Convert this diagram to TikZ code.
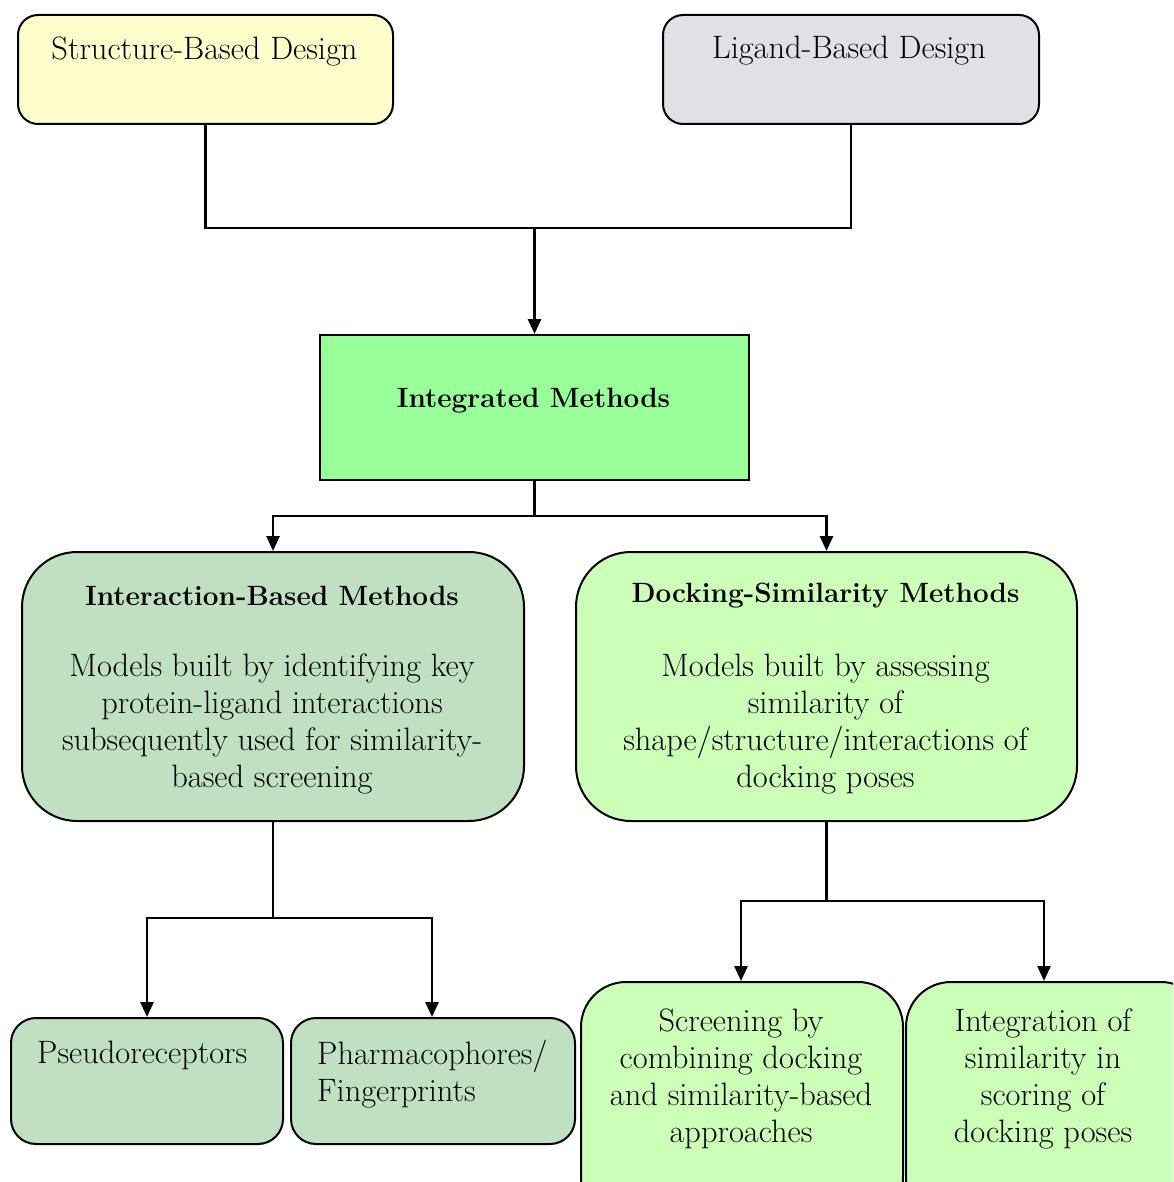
\documentclass[tikz,border=0pt]{standalone}
\usepackage{fontspec}
\usetikzlibrary{arrows.meta}
\definecolor{sbdfill}{HTML}{FFFFCC}
\definecolor{lbdfill}{HTML}{E0E1E6}
\definecolor{intfill}{HTML}{99FF99}
\definecolor{ibmfill}{HTML}{BFE1C1}
\definecolor{dsmfill}{HTML}{CCFFB8}
\tikzset{
  boxbase/.style={draw=black, line width=2pt, inner sep=0pt, anchor=north west},
  txt/.style={font=\fontsize{32.4}{37}\selectfont, align=center, inner sep=0pt},
  btxt/.style={font=\fontsize{27.9}{37}\selectfont\bfseries, align=center, inner sep=0pt},
  conn/.style={line width=2.7pt},
  arr/.style={line width=2.7pt, -{Triangle[width=13pt,length=15pt]}},
}
\begin{document}
\begin{tikzpicture}[x=1pt,y=-1pt]
\useasboundingbox (0,0) rectangle (1173,1182);
\clip (0,0) rectangle (1173,1182);
% boxes
\node[boxbase, fill=sbdfill, rounded corners=20pt, minimum width=375pt, minimum height=109pt] (sbd) at (17,14) {};
\node[boxbase, fill=lbdfill, rounded corners=20pt, minimum width=376pt, minimum height=109pt] (lbd) at (662,14) {};
\node[boxbase, fill=intfill, minimum width=429pt, minimum height=145pt] (int) at (319,334) {};
\node[boxbase, fill=ibmfill, rounded corners=55pt, minimum width=502pt, minimum height=269pt] (ibm) at (21,551) {};
\node[boxbase, fill=dsmfill, rounded corners=55pt, minimum width=501pt, minimum height=269pt] (dsm) at (575,551) {};
\node[boxbase, fill=ibmfill, rounded corners=25pt, minimum width=272pt, minimum height=126pt] (pse) at (10,1017) {};
\node[boxbase, fill=ibmfill, rounded corners=25pt, minimum width=284pt, minimum height=126pt] (pha) at (290,1017) {};
\node[boxbase, fill=dsmfill, rounded corners=45pt, minimum width=322pt, minimum height=240pt] (scr) at (580,981) {};
\node[boxbase, fill=dsmfill, rounded corners=45pt, minimum width=300pt, minimum height=240pt] (ing) at (905,981) {};
% texts
\node[txt] (tsbd) at (204.5,51) {Structure-Based Design};
\node[txt] (tlbd) at (849,51) {Ligand-Based Design};
\node[btxt] (tint) at (533.5,401) {Integrated Methods};
\node[btxt] (tibm) at (272,596) {Interaction-Based Methods};
\node[txt] (bibm) at (272,724) {Models built by identifying key\\protein-ligand interactions\\subsequently used for similarity-\\based screening};
\node[btxt] (tdsm) at (825.5,596) {Docking-Similarity Methods};
\node[txt] (bdsm) at (825.5,724) {Models built by assessing\\similarity of\\shape/structure/interactions of\\docking poses};
\node[txt, anchor=west] (tpse) at (37,1055) {Pseudoreceptors};
\node[txt, anchor=west, align=left] (tpha) at (317,1074) {Pharmacophores/\\Fingerprints};
\node[txt] (tscr) at (741,1079) {Screening by\\combining docking\\and similarity-based\\approaches};
\node[txt] (ting) at (1043,1079) {Integration of\\similarity in\\scoring of\\docking poses};
% connectors
\coordinate (j1) at (int.north |- 0,228);
\draw[conn] (sbd.south) |- (j1) -| (lbd.south);
\draw[arr] (j1) -- (int.north);
\coordinate (j2) at (int.south |- 0,516);
\draw[conn] (int.south) -- (j2);
\draw[arr] (j2) -| (ibm.north);
\draw[arr] (j2) -| (dsm.north);
\coordinate (j3) at (ibm.south |- 0,918);
\coordinate (p1) at (147,1017);
\coordinate (p2) at (432,1017);
\draw[conn] (ibm.south) -- (j3);
\draw[arr] (j3) -| (p1);
\draw[arr] (j3) -| (p2);
\coordinate (j4) at (dsm.south |- 0,901);
\coordinate (s1) at (741,981);
\coordinate (s2) at (1044,981);
\draw[conn] (dsm.south) -- (j4);
\draw[arr] (j4) -| (s1);
\draw[arr] (j4) -| (s2);
\end{tikzpicture}
\end{document}
